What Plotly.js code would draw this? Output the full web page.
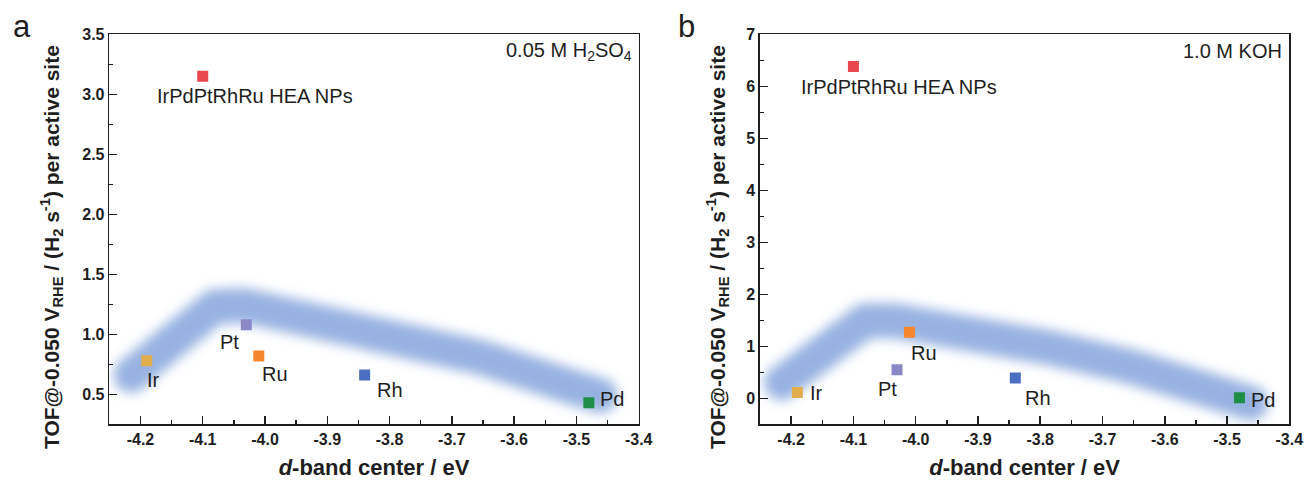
<!DOCTYPE html>
<html><head><meta charset="utf-8">
<script src="https://cdn.plot.ly/plotly-3.0.1.min.js"></script>
<style>html,body{margin:0;padding:0;background:#fff;}</style>
</head><body>
<div id="chart" style="width:1306px;height:484px;"></div>
<script>
// ---- data ----
const labels = ['IrPdPtRhRu HEA NPs', 'Ir', 'Pt', 'Ru', 'Rh', 'Pd'];
const dBandCenter = [-4.10, -4.19, -4.03, -4.01, -3.84, -3.48];
const tofAcid = [3.15, 0.78, 1.08, 0.82, 0.66, 0.43];
const tofBase = [6.38, 0.11, 0.55, 1.27, 0.39, 0.01];
const pointColors = ['#e8474f', '#e2ad4c', '#8b88c8', '#f5862e', '#4a6fc0', '#1f8f47'];
const bandX = [-4.215, -4.081, -4.033, -3.945, -3.784, -3.655, -3.494, -3.462];
const bandAcid = [0.66, 1.23, 1.24, 1.14, 0.96, 0.81, 0.54, 0.49];
const bandBase = [0.30, 1.49, 1.49, 1.34, 0.97, 0.61, 0.00, -0.09];
const xTickVals = [-4.2, -4.1, -4.0, -3.9, -3.8, -3.7, -3.6, -3.5, -3.4];
const xTickText = ['-4.2', '-4.1', '-4.0', '-3.9', '-3.8', '-3.7', '-3.6', '-3.5', '-3.4'];
const condAcid = '0.05 M H<sub>2</sub>SO<sub>4</sub>';
const condBase = '1.0 M KOH';
const yTitle = 'TOF@-0.050 V<sub>RHE</sub> / (H<sub>2</sub> s<sup>-1</sup>) per active site';
const xTitle = '<i>d</i>-band center / eV';

// ---- styles / positions ----
const W = 1306, H = 484;
const FAM = 'Arial, "Liberation Sans", sans-serif';
const ink = '#1e1e1e';
const px = v => v / W, py = v => (H - v) / H;
const offA = [['left', -47, -20], ['left', -1, -19], ['right', -6, -17], ['left', 2, -18], ['left', 11, -15], ['left', 10, 4]];
const offB = [['left', -53, -20], ['left', 12, 0], ['center', -10, -19], ['left', 1, -21], ['left', 9, -20], ['left', 11, -2]];

function bandTrace(y, xa, ya) {
  return {x: bandX, y: y, xaxis: xa, yaxis: ya, mode: 'lines', hoverinfo: 'skip',
    line: {color: 'rgb(140,170,222)', width: 35}, opacity: 0.9};
}
function pointTrace(y, xa, ya) {
  return {x: dBandCenter, y: y, xaxis: xa, yaxis: ya, mode: 'markers',
    marker: {symbol: 'square', size: 11, color: pointColors, line: {width: 0}}};
}
const traces = [
  bandTrace(bandAcid, 'x', 'y'), pointTrace(tofAcid, 'x', 'y'),
  bandTrace(bandBase, 'x2', 'y2'), pointTrace(tofBase, 'x2', 'y2')
];

function xAxis(dom, anchor) {
  return {domain: dom, anchor: anchor, range: [-4.25, -3.4], tickmode: 'array', tickvals: xTickVals, ticktext: xTickText,
    ticks: 'inside', ticklen: 8, tickwidth: 1.5, tickcolor: ink, showline: true, linewidth: 1.6, linecolor: ink,
    mirror: true, showgrid: false, zeroline: false,
    tickfont: {family: FAM, size: 16, weight: 'bold', color: ink},
    minor: {tickmode: 'linear', tick0: -4.25, dtick: 0.05, ticks: 'inside', ticklen: 4, tickwidth: 1.5, tickcolor: ink, showgrid: false},
    title: {text: xTitle, font: {family: FAM, size: 22, weight: 'bold', color: ink}, standoff: 12}};
}
function yAxis(range, dtick, fmt, anchor) {
  return {domain: [py(424.3), py(34.3)], anchor: anchor, range: range, tick0: 0, dtick: dtick, tickformat: fmt,
    ticks: 'inside', ticklen: 8, tickwidth: 1.5, tickcolor: ink, showline: true, linewidth: 1.6, linecolor: ink,
    mirror: true, showgrid: false, zeroline: false,
    tickfont: {family: FAM, size: 16, weight: 'bold', color: ink},
    minor: {dtick: dtick / 2, ticks: 'inside', ticklen: 4, tickwidth: 1.5, tickcolor: ink, showgrid: false}};
}

const annotations = [];
function addLabels(yvals, offs, xr, yr) {
  labels.forEach((t, i) => annotations.push({x: dBandCenter[i], y: yvals[i], xref: xr, yref: yr, text: t,
    showarrow: false, xanchor: offs[i][0], yanchor: 'middle', xshift: offs[i][1], yshift: offs[i][2], borderpad: 0,
    font: {family: FAM, size: 20, color: ink}}));
}
addLabels(tofAcid, offA, 'x', 'y');
addLabels(tofBase, offB, 'x2', 'y2');
const paperText = (t, x, y, size, opts) => Object.assign({text: t, x: px(x), y: py(y), xref: 'paper', yref: 'paper',
  showarrow: false, borderpad: 0, font: {family: FAM, size: size, color: ink}}, opts);
annotations.push(paperText('a', 22, 27, 31, {xanchor: 'center', yanchor: 'middle'}));
annotations.push(paperText('b', 686, 27, 31, {xanchor: 'center', yanchor: 'middle'}));
annotations.push(paperText(condAcid, 633, 51, 20, {xanchor: 'right', yanchor: 'middle'}));
annotations.push(paperText(condBase, 1283, 51, 20, {xanchor: 'right', yanchor: 'middle'}));
annotations.push(paperText(yTitle, 51, 247, 21, {xanchor: 'center', yanchor: 'middle', textangle: -90,
  font: {family: FAM, size: 21, weight: 'bold', color: ink}}));
annotations.push(paperText(yTitle, 717, 247, 21, {xanchor: 'center', yanchor: 'middle', textangle: -90,
  font: {family: FAM, size: 21, weight: 'bold', color: ink}}));

const layout = {
  width: W, height: H, margin: {l: 0, r: 0, t: 0, b: 0}, showlegend: false,
  paper_bgcolor: '#fff', plot_bgcolor: '#fff',
  xaxis: xAxis([px(109.3), px(638.7)], 'y'),
  yaxis: yAxis([0.25, 3.5], 0.5, '.1f', 'x'),
  xaxis2: xAxis([px(760), px(1289.3)], 'y2'),
  yaxis2: yAxis([-0.5, 7], 1, 'd', 'x2'),
  annotations: annotations
};

Plotly.newPlot('chart', traces, layout, {staticPlot: true, displayModeBar: false}).then(gd => {
  const svg = gd.querySelector('svg.main-svg');
  const defs = svg.querySelector('defs');
  const NS = 'http://www.w3.org/2000/svg';
  const f = document.createElementNS(NS, 'filter');
  f.setAttribute('id', 'bandblur');
  f.setAttribute('x', '-30%'); f.setAttribute('y', '-60%');
  f.setAttribute('width', '160%'); f.setAttribute('height', '220%');
  const g = document.createElementNS(NS, 'feGaussianBlur');
  g.setAttribute('stdDeviation', '6');
  f.appendChild(g); defs.appendChild(f);
  gd.querySelectorAll('path.js-line').forEach(p => {
    if (parseFloat(p.style.strokeWidth) > 20) {
      p.style.strokeLinecap = 'round';
      p.style.strokeLinejoin = 'round';
      p.setAttribute('filter', 'url(#bandblur)');
    }
  });
});
</script>
</body></html>
